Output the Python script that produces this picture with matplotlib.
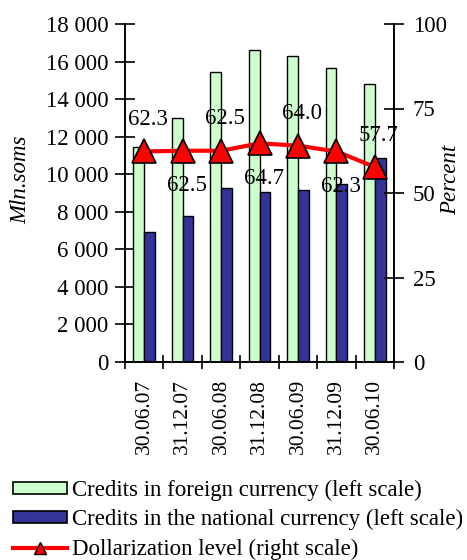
import matplotlib
matplotlib.use("Agg")
import matplotlib.pyplot as plt
from matplotlib.patches import Patch
from matplotlib.lines import Line2D
import numpy as np

plt.rcParams['font.family'] = ['Liberation Serif', 'DejaVu Serif']

dates = ["30.06.07", "31.12.07", "30.06.08", "31.12.08", "30.06.09", "31.12.09", "30.06.10"]
foreign = [11450, 13000, 15450, 16600, 16300, 15650, 14800]
national = [6920, 7780, 9270, 9050, 9160, 9480, 10860]
dollarization = [62.3, 62.5, 62.5, 64.7, 64.0, 62.3, 57.7]
label_above = [True, False, True, False, True, False, True]

left_ticks = [0, 2000, 4000, 6000, 8000, 10000, 12000, 14000, 16000, 18000]
right_ticks = [0, 25, 50, 75, 100]

FS = 16.5
fig = plt.figure(figsize=(4.67, 5.6), dpi=100)
ax = fig.add_axes([125/467, 1-362/560, (394-125)/467, (362-24)/560])
ax2 = ax.twinx()

x = np.arange(len(dates))
w = 0.28
ax.bar(x - w/2, foreign, width=w, color='#CCFFCC', edgecolor='black', linewidth=1.0, zorder=2)
ax.bar(x + w/2, national, width=w, color='#333399', edgecolor='black', linewidth=1.0, zorder=2)

ax.set_xlim(-0.5, len(dates) - 0.5)
ax.set_ylim(0, 18000)
ax.set_yticks(left_ticks)
ax.set_yticklabels([f"{v:,}".replace(",", " ") for v in left_ticks], fontsize=FS)
ax.set_xticks(x)
ax.set_xticklabels(dates, rotation=90, fontsize=15.5)
ax.set_xticks(np.arange(len(dates) + 1) - 0.5, minor=True)
ax.tick_params(axis='x', which='major', length=0, pad=12)
ax.tick_params(axis='x', which='minor', length=10, direction='inout', width=1.2)
ax.tick_params(axis='y', length=14, direction='inout', width=1.2, pad=5)
ax.set_ylabel("Mln.soms", fontsize=FS, style='italic')
ax.yaxis.set_label_coords(-0.35, 0.54)
ax.spines['top'].set_visible(False)
ax2.spines['top'].set_visible(False)
for s in ['left', 'bottom', 'right']:
    ax.spines[s].set_linewidth(1.2)
    ax2.spines[s].set_linewidth(1.2)

ax2.set_ylim(0, 100)
ax2.set_yticks(right_ticks)
ax2.set_yticklabels([str(v) for v in right_ticks], fontsize=FS)
ax2.tick_params(axis='y', length=14, direction='inout', width=1.2, pad=6.5)
ax2.set_ylabel("Percent", fontsize=FS, style='italic')
ax2.yaxis.set_label_coords(1.171, 0.54)
ax2.plot(x, dollarization, color='#FF0000', linewidth=3, marker='^', markersize=17,
         markerfacecolor='#FF0000', markeredgecolor='black', markeredgewidth=1.2, zorder=3)
for xi, v, up in zip(x, dollarization, label_above):
    ax2.annotate(f"{v:.1f}", (xi, v), xytext=(3, 23 if up else -25), textcoords='offset points',
                 ha='center', va='center', fontsize=FS, zorder=4)

handles = [
    Patch(facecolor='#CCFFCC', edgecolor='black', linewidth=1.2),
    Patch(facecolor='#333399', edgecolor='black', linewidth=1.2),
    Line2D([0], [0], color='#FF0000', linewidth=3, marker='^', markersize=9,
           markerfacecolor='#FF0000', markeredgecolor='black'),
]
labels = ["Credits in foreign currency (left scale)",
          "Credits in the national currency (left scale)",
          "Dollarization level (right scale)"]
fig.legend(handles, labels, loc='upper left', bbox_to_anchor=(12/467 - 0.012, 1 - 473/560),
           frameon=False, fontsize=FS, handlelength=2.35, handleheight=0.42,
           handletextpad=0.2, labelspacing=0.36, borderaxespad=0.0, borderpad=0.3)

fig.savefig("out.png", dpi=100)
